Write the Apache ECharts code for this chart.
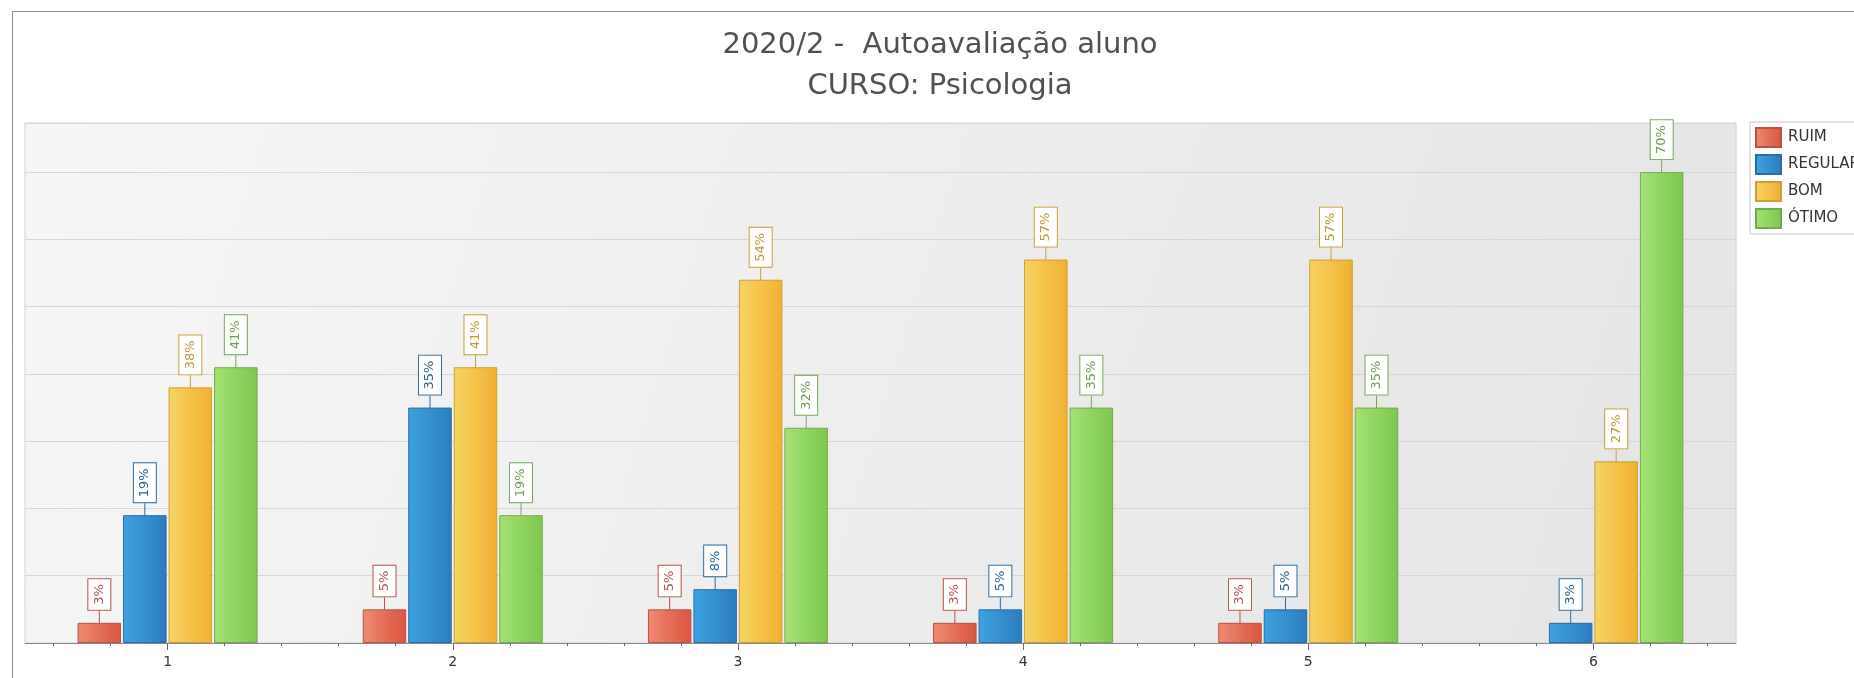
<!DOCTYPE html>
<html>
<head>
<meta charset="utf-8">
<script src="https://cdn.jsdelivr.net/npm/echarts@6/dist/echarts.min.js"></script>
<style>
html,body{margin:0;padding:0;background:#fff;}
#chart{width:1854px;height:678px;}
</style>
</head>
<body>
<div id="chart"></div>
<script>
const titleLines = ['2020/2 -  Autoavaliação aluno', 'CURSO: Psicologia'];
const categories = ['1', '2', '3', '4', '5', '6'];
const seriesNames = ['RUIM', 'REGULAR', 'BOM', 'ÓTIMO'];
const ruim    = [3, 5, 5, 3, 3, null];
const regular = [19, 35, 8, 5, 5, 3];
const bom     = [38, 41, 54, 57, 57, 27];
const otimo   = [41, 19, 32, 35, 35, 70];
const minorPerCategory = 5;

const seriesData = [ruim, regular, bom, otimo];
const palette = [
  {l: '#f08a72', r: '#d9553e', border: '#b9523f', text: '#a8584a'},
  {l: '#3fa2e2', r: '#2a7dbf', border: '#2a6da3', text: '#2b6590'},
  {l: '#f7d462', r: '#f0b030', border: '#caa035', text: '#bf9a35'},
  {l: '#a4e274', r: '#7cc84e', border: '#72aa52', text: '#6e9e50'}
];

const minorCats = [];
for (let i = 0; i < categories.length * minorPerCategory; i++) minorCats.push(String(i));

const chart = echarts.init(document.getElementById('chart'), null, {renderer: 'canvas'});

const series = seriesData.map((d, i) => ({
  name: seriesNames[i],
  type: 'bar',
  xAxisIndex: 0,
  data: d,
  barWidth: 43.5,
  barGap: '4.6%',
  itemStyle: {
    color: new echarts.graphic.LinearGradient(0, 0, 1, 0, [
      {offset: 0, color: palette[i].l},
      {offset: 1, color: palette[i].r}
    ]),
    borderColor: palette[i].border,
    borderWidth: 1
  },
  label: {
    show: true,
    position: 'top',
    distance: 13,
    rotate: 90,
    align: 'left',
    verticalAlign: 'middle',
    formatter: '{c}%',
    color: palette[i].text,
    fontFamily: 'DejaVu Sans',
    fontSize: 13,
    lineHeight: 14,
    backgroundColor: '#ffffff',
    borderColor: palette[i].border,
    borderWidth: 1,
    padding: [4, 5, 4, 5]
  },
  labelLine: {
    show: true,
    lineStyle: {color: palette[i].border, width: 1}
  },
  emphasis: {disabled: true}
}));

chart.setOption({
  animation: false,
  backgroundColor: '#ffffff',
  title: {
    text: titleLines.join('\n'),
    left: 940,
    top: 25,
    textAlign: 'center',
    padding: 0,
    textStyle: {
      fontFamily: 'DejaVu Sans',
      fontSize: 29,
      fontWeight: 'normal',
      color: '#505050',
      lineHeight: 41
    }
  },
  legend: {
    orient: 'vertical',
    left: 1750,
    top: 122,
    padding: [5, 20, 5, 5],
    itemWidth: 25,
    itemHeight: 19,
    itemGap: 6,
    icon: 'rect',
    borderColor: '#c8c8c8',
    borderWidth: 1,
    backgroundColor: '#ffffff',
    textStyle: {fontFamily: 'DejaVu Sans', fontSize: 15, color: '#333333', padding: [0, 0, 0, 2]},
    data: seriesNames
  },
  grid: {
    left: 25,
    right: 118,
    top: 123,
    bottom: 35,
    show: true,
    borderColor: '#d2d2d2',
    borderWidth: 1,
    backgroundColor: new echarts.graphic.LinearGradient(0, 0, 1, 1, [
      {offset: 0, color: '#f6f6f6'},
      {offset: 1, color: '#e4e4e4'}
    ])
  },
  xAxis: [{
    type: 'category',
    data: categories,
    boundaryGap: true,
    axisLine: {show: true, lineStyle: {color: '#8a8a8a', width: 1}},
    axisTick: {show: true, alignWithLabel: true, length: 7, lineStyle: {color: '#6a6a6a'}},
    axisLabel: {fontFamily: 'DejaVu Sans', fontSize: 14, color: '#333333', margin: 12},
    splitLine: {show: false}
  }, {
    type: 'category',
    data: minorCats,
    position: 'bottom',
    boundaryGap: true,
    axisLine: {show: false},
    axisTick: {show: true, alignWithLabel: true, length: 3, lineStyle: {color: '#6a6a6a'}},
    axisLabel: {show: false},
    splitLine: {show: false}
  }],
  yAxis: {
    type: 'value',
    min: 0,
    max: 77.3,
    interval: 10,
    axisLine: {show: false},
    axisTick: {show: false},
    axisLabel: {show: false},
    splitLine: {show: true, lineStyle: {color: '#d6d6d6', width: 1}}
  },
  graphic: [{
    type: 'rect',
    left: 10,
    top: 9,
    shape: {x: 0, y: 0, width: 1900, height: 700},
    style: {fill: null, stroke: '#8c8c8c', lineWidth: 1},
    silent: true,
    z: 100
  }],
  series: series
});
</script>
</body>
</html>
